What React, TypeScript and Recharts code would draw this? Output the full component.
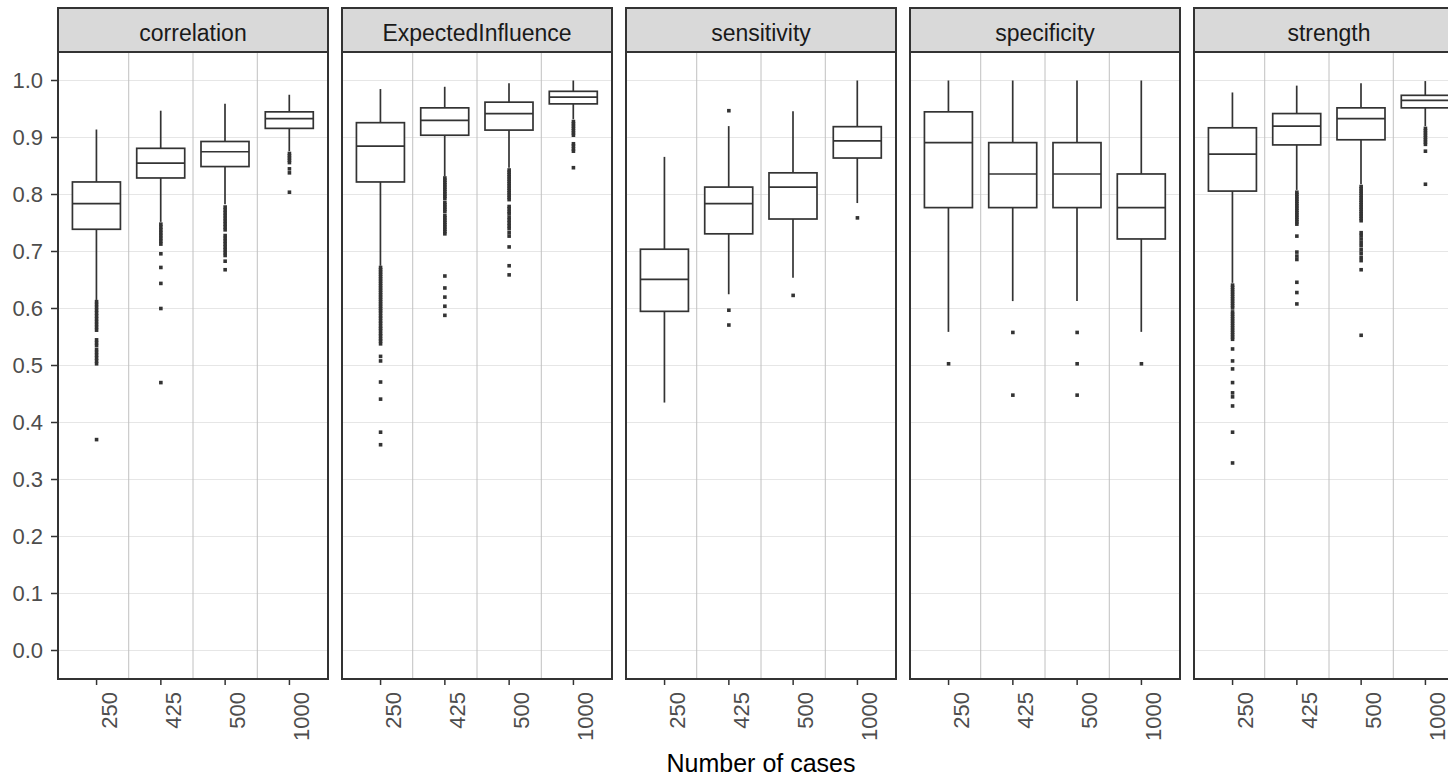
import React from "react";
import { Bar, CartesianGrid, ComposedChart, Scatter, XAxis, YAxis } from "recharts";

const SIZES = ["250", "425", "500", "1000"];
const METRICS = ["correlation", "ExpectedInfluence", "sensitivity", "specificity", "strength"];
const X_TITLE = "Number of cases";

const Y_TICKS = [0, 0.1, 0.2, 0.3, 0.4, 0.5, 0.6, 0.7, 0.8, 0.9, 1.0];
const Y_MINOR = [0.05, 0.15, 0.25, 0.35, 0.45, 0.55, 0.65, 0.75, 0.85, 0.95];
const X_DIVIDERS = [1.5, 2.5, 3.5];

// each row: [lower whisker, q1, median, q3, upper whisker] for 250, 425, 500, 1000
const correlationBox = [
  [0.615, 0.739, 0.784, 0.822, 0.914],
  [0.752, 0.829, 0.855, 0.881, 0.947],
  [0.783, 0.849, 0.875, 0.893, 0.959],
  [0.876, 0.916, 0.933, 0.945, 0.975],
];
const correlationOut = [
  [0.612, 0.607, 0.602, 0.597, 0.592, 0.587, 0.582, 0.577, 0.572, 0.567, 0.562, 0.545, 0.54, 0.535, 0.528, 0.523, 0.518, 0.513, 0.508, 0.503, 0.37],
  [0.748, 0.743, 0.738, 0.733, 0.728, 0.723, 0.718, 0.713, 0.696, 0.672, 0.644, 0.6, 0.47],
  [0.778, 0.773, 0.768, 0.763, 0.758, 0.753, 0.748, 0.743, 0.738, 0.728, 0.723, 0.718, 0.713, 0.708, 0.703, 0.698, 0.693, 0.683, 0.668],
  [0.872, 0.868, 0.864, 0.86, 0.856, 0.845, 0.838, 0.804],
];

const influenceBox = [
  [0.675, 0.822, 0.885, 0.926, 0.985],
  [0.832, 0.904, 0.93, 0.952, 0.989],
  [0.847, 0.913, 0.942, 0.962, 0.995],
  [0.932, 0.959, 0.971, 0.981, 1.0],
];
const influenceOut = [
  [0.672, 0.668, 0.664, 0.66, 0.656, 0.652, 0.648, 0.644, 0.64, 0.636, 0.632, 0.628, 0.624, 0.62, 0.616, 0.612, 0.608, 0.604, 0.6, 0.596, 0.592, 0.587, 0.583, 0.578, 0.574, 0.569, 0.565, 0.561, 0.556, 0.552, 0.547, 0.543, 0.538, 0.516, 0.508, 0.471, 0.441, 0.383, 0.361],
  [0.829, 0.825, 0.821, 0.817, 0.813, 0.809, 0.805, 0.801, 0.797, 0.793, 0.786, 0.782, 0.778, 0.774, 0.77, 0.763, 0.759, 0.755, 0.751, 0.747, 0.743, 0.739, 0.735, 0.731, 0.657, 0.636, 0.62, 0.604, 0.588],
  [0.843, 0.839, 0.835, 0.831, 0.827, 0.823, 0.819, 0.815, 0.811, 0.807, 0.803, 0.799, 0.795, 0.791, 0.779, 0.775, 0.77, 0.766, 0.76, 0.755, 0.75, 0.745, 0.74, 0.733, 0.727, 0.708, 0.675, 0.659],
  [0.928, 0.924, 0.92, 0.916, 0.912, 0.908, 0.904, 0.889, 0.885, 0.88, 0.876, 0.847],
];

const sensitivityBox = [
  [0.435, 0.595, 0.651, 0.704, 0.866],
  [0.625, 0.731, 0.784, 0.813, 0.92],
  [0.654, 0.757, 0.813, 0.838, 0.946],
  [0.785, 0.864, 0.894, 0.919, 1.0],
];
const sensitivityOut = [[], [0.947, 0.597, 0.571], [0.623], [0.759]];

const specificityBox = [
  [0.559, 0.777, 0.891, 0.945, 1.0],
  [0.613, 0.777, 0.836, 0.891, 1.0],
  [0.613, 0.777, 0.836, 0.891, 1.0],
  [0.559, 0.722, 0.777, 0.836, 1.0],
];
const specificityOut = [[0.503], [0.558, 0.448], [0.558, 0.503, 0.448], [0.503]];

const strengthBox = [
  [0.645, 0.806, 0.871, 0.917, 0.979],
  [0.808, 0.887, 0.92, 0.942, 0.991],
  [0.818, 0.896, 0.933, 0.952, 0.995],
  [0.92, 0.952, 0.965, 0.974, 0.999],
];
const strengthOut = [
  [0.641, 0.637, 0.633, 0.629, 0.625, 0.621, 0.617, 0.613, 0.609, 0.605, 0.601, 0.594, 0.59, 0.586, 0.582, 0.578, 0.574, 0.57, 0.566, 0.562, 0.558, 0.554, 0.55, 0.546, 0.529, 0.508, 0.494, 0.47, 0.452, 0.445, 0.429, 0.383, 0.329],
  [0.804, 0.8, 0.796, 0.792, 0.788, 0.784, 0.78, 0.776, 0.772, 0.768, 0.764, 0.76, 0.756, 0.752, 0.748, 0.727, 0.699, 0.692, 0.686, 0.646, 0.628, 0.608],
  [0.814, 0.81, 0.806, 0.802, 0.798, 0.794, 0.79, 0.786, 0.782, 0.778, 0.774, 0.77, 0.766, 0.762, 0.758, 0.754, 0.733, 0.728, 0.722, 0.716, 0.71, 0.703, 0.697, 0.69, 0.684, 0.668, 0.553],
  [0.916, 0.912, 0.908, 0.904, 0.9, 0.896, 0.892, 0.888, 0.876, 0.818],
];

const BOXES = [correlationBox, influenceBox, sensitivityBox, specificityBox, strengthBox];
const OUTLIERS = [correlationOut, influenceOut, sensitivityOut, specificityOut, strengthOut];

const FONT = "'Liberation Sans', Arial, sans-serif";
const PLOT_LEFT = 58;
const PLOT_TOP = 52;
const PLOT_W = 270;
const PLOT_H = 627;
const PANEL_STEP = 284;
const X_AXIS_H = 72;
const UNIT = PLOT_W / 4.2;
const CAT_PAD = UNIT * 0.1;
const DARK = "#333333";

function BoxShape(props: any) {
  const { x, y, width, height, payload } = props;
  const [lo, q1, med, q3, hi] = payload.stats;
  const top = Math.min(y, y + height);
  const h = Math.abs(height);
  const py = (v: number) => top + (h * (hi - v)) / (hi - lo);
  const cx = x + width / 2;
  return (
    <g stroke={DARK} strokeWidth={1.7} fill="none">
      <line x1={cx} x2={cx} y1={py(hi)} y2={py(q3)} />
      <line x1={cx} x2={cx} y1={py(q1)} y2={py(lo)} />
      <rect x={x} y={py(q3)} width={width} height={py(q1) - py(q3)} fill="#ffffff" />
      <line x1={x} x2={x + width} y1={py(med)} y2={py(med)} />
    </g>
  );
}

function OutlierDot(props: any) {
  const { cx, cy } = props;
  return <rect x={cx - 1.8} y={cy - 1.8} width={3.6} height={3.6} fill={DARK} />;
}

function XTick(props: any) {
  const { x, y, payload } = props;
  return (
    <text
      transform={`translate(${x + 20},${y + 5}) rotate(-90)`}
      textAnchor="end"
      fontSize={22}
      fill="#4d4d4d"
    >
      {payload.value}
    </text>
  );
}

function Panel({ index }: { index: number }) {
  const box = BOXES[index];
  const out = OUTLIERS[index];
  const showY = index === 0;
  const plotLeft = PLOT_LEFT + index * PANEL_STEP;
  const rows = SIZES.map((n, i) => ({ n, range: [box[i][0], box[i][4]], stats: box[i] }));
  const points = out.flatMap((vals, i) => vals.map((v) => ({ x: i + 1, y: v })));

  return (
    <>
      <div
        style={{
          position: "absolute",
          left: plotLeft - 1,
          top: 7,
          width: PLOT_W + 2,
          height: 46,
          boxSizing: "border-box",
          border: `2px solid ${DARK}`,
          background: "#d9d9d9",
        }}
      >
        <div
          style={{
            position: "absolute",
            top: 13,
            left: 0,
            right: 0,
            textAlign: "center",
            fontSize: 23,
            lineHeight: "23px",
            color: "#1a1a1a",
          }}
        >
          {METRICS[index]}
        </div>
      </div>
      <div style={{ position: "absolute", left: showY ? 0 : plotLeft, top: PLOT_TOP }}>
        <ComposedChart
          width={showY ? PLOT_W + PLOT_LEFT : PLOT_W}
          height={PLOT_H + X_AXIS_H}
          data={rows}
          margin={{ top: 0, right: 0, bottom: 0, left: 0 }}
        >
          <CartesianGrid vertical={false} horizontalValues={[...Y_MINOR, ...Y_TICKS]} stroke="#e6e6e6" strokeWidth={1.1} />
          <CartesianGrid horizontal={false} verticalValues={X_DIVIDERS} stroke="#c0c0c0" strokeWidth={1} />
          <XAxis
            xAxisId="cat"
            dataKey="n"
            type="category"
            padding={{ left: CAT_PAD, right: CAT_PAD }}
            axisLine={false}
            tickLine={{ stroke: DARK, strokeWidth: 1.5 }}
            tickSize={6}
            height={X_AXIS_H}
            interval={0}
            tick={(p: any) => <XTick {...p} />}
          />
          <XAxis type="number" dataKey="x" domain={[0.4, 4.6]} hide height={0} allowDataOverflow />
          <YAxis
            type="number"
            domain={[-0.05, 1.05]}
            ticks={Y_TICKS}
            allowDataOverflow
            hide={!showY}
            width={PLOT_LEFT}
            axisLine={false}
            tickLine={{ stroke: DARK, strokeWidth: 1.5 }}
            tickSize={7}
            tickMargin={8}
            tick={{ fill: "#4d4d4d", fontSize: 22 }}
            tickFormatter={(v: number) => v.toFixed(1)}
          />
          <Bar xAxisId="cat" dataKey="range" barSize={48} shape={BoxShape} isAnimationActive={false} />
          <Scatter data={points} dataKey="y" shape={OutlierDot} isAnimationActive={false} />
        </ComposedChart>
      </div>
      <div
        style={{
          position: "absolute",
          left: plotLeft - 1,
          top: PLOT_TOP - 1,
          width: PLOT_W + 2,
          height: PLOT_H + 2,
          boxSizing: "border-box",
          border: `2px solid ${DARK}`,
          pointerEvents: "none",
        }}
      />
    </>
  );
}

export default function App() {
  return (
    <div
      style={{
        position: "absolute",
        left: 0,
        top: 0,
        width: 1448,
        height: 778,
        overflow: "hidden",
        background: "#ffffff",
        fontFamily: FONT,
      }}
    >
      {METRICS.map((m, i) => (
        <Panel key={m} index={i} />
      ))}
      <div
        style={{
          position: "absolute",
          left: PLOT_LEFT,
          width: PLOT_W * 5 + (PANEL_STEP - PLOT_W) * 4,
          top: 751,
          textAlign: "center",
          fontSize: 25,
          lineHeight: "25px",
          color: "#000000",
        }}
      >
        {X_TITLE}
      </div>
    </div>
  );
}
